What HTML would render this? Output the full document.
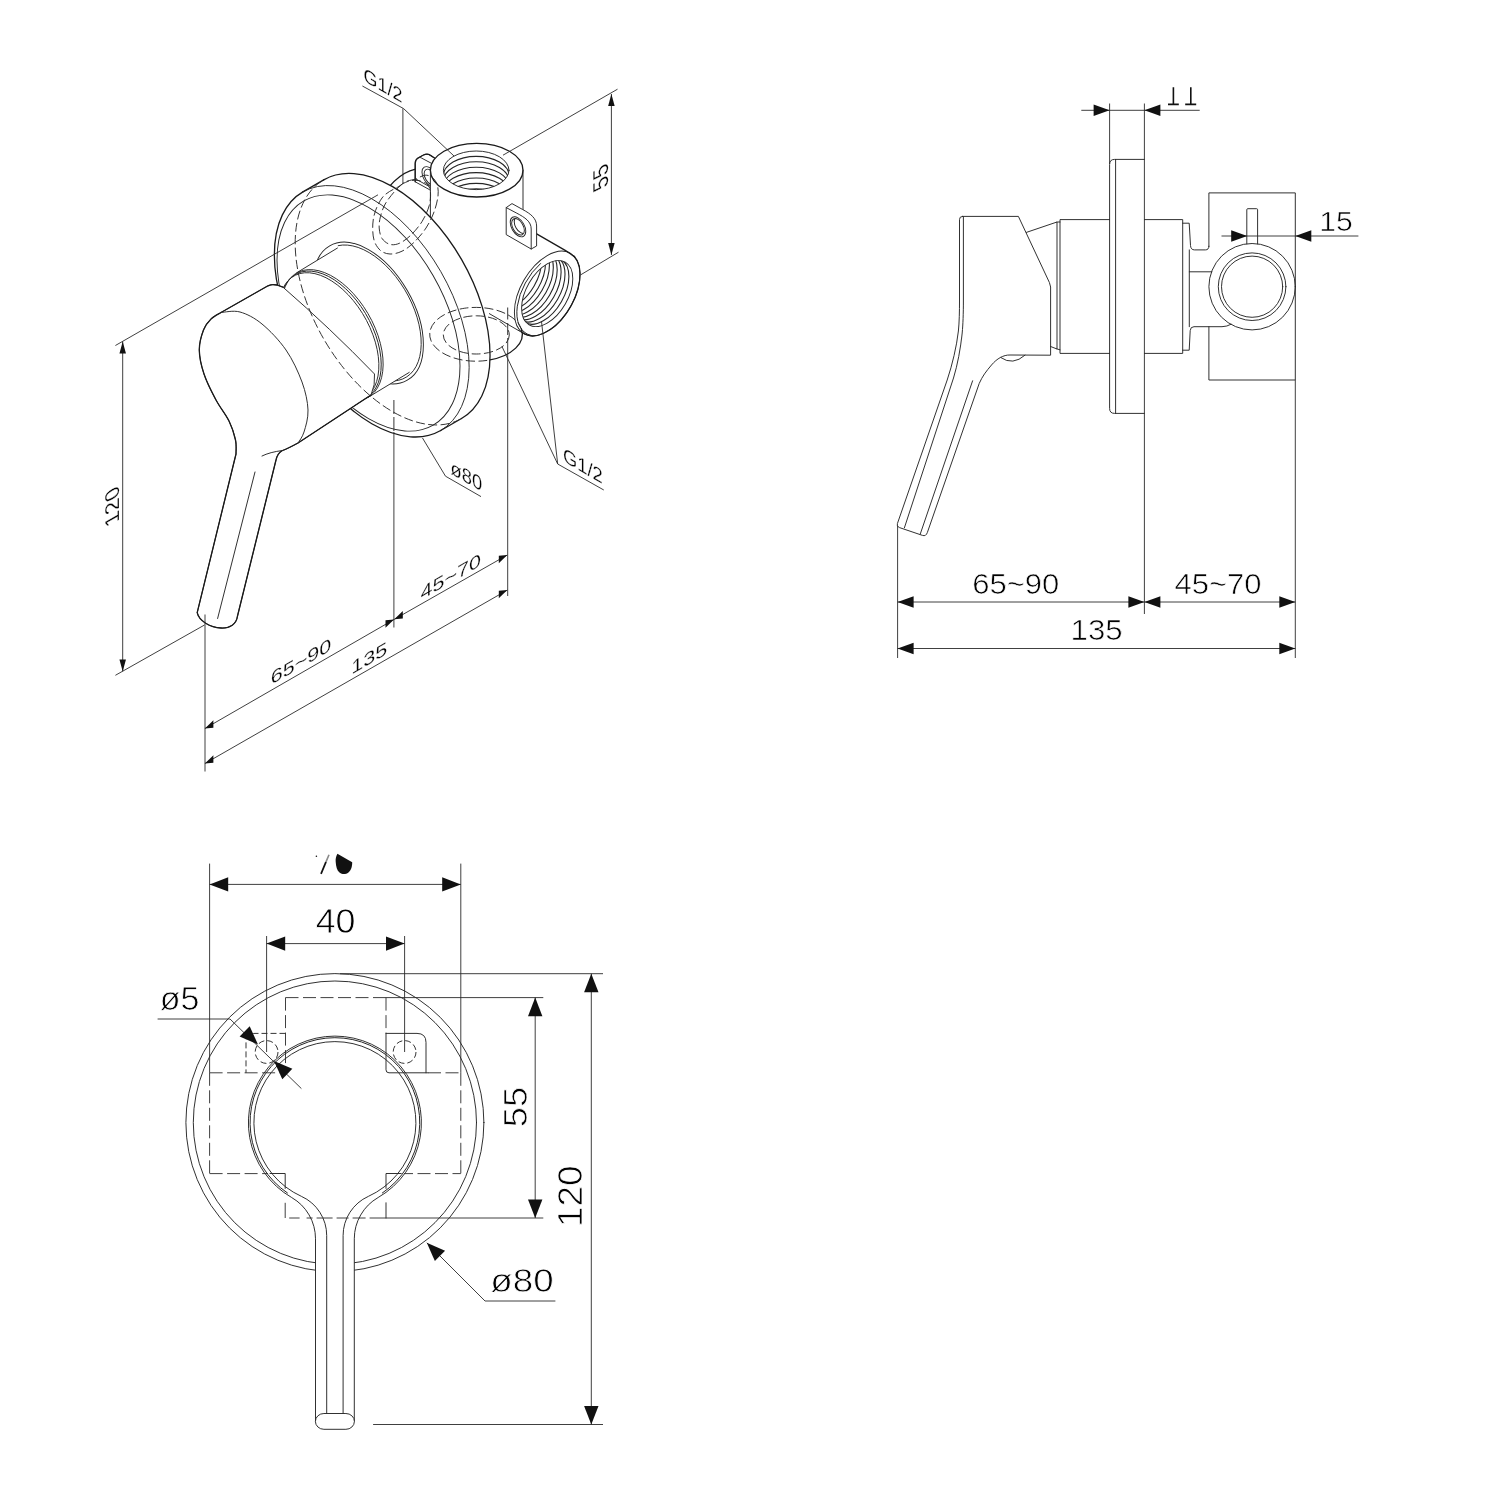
<!DOCTYPE html>
<html><head><meta charset="utf-8"><title>drawing</title>
<style>
html,body{margin:0;padding:0;background:#fff;}
svg{display:block;}
.o{fill:none;stroke:#262626;stroke-width:0.95;stroke-linecap:round;stroke-linejoin:round}
.t{fill:none;stroke:#1a1a1a;stroke-width:1.3;stroke-linecap:round;stroke-linejoin:round}
.w{fill:#fff;stroke:#262626;stroke-width:0.95;stroke-linejoin:round}
.wn{fill:#fff;stroke:none}
.d{fill:none;stroke:#2a2a2a;stroke-width:0.9}
.h{fill:none;stroke:#2a2a2a;stroke-width:0.95;stroke-dasharray:9 3.4}
.h2{fill:none;stroke:#2a2a2a;stroke-width:0.9;stroke-dasharray:13 4.5}
.a{fill:#111;stroke:none}
text{font-family:"Liberation Sans",sans-serif;fill:#000}

</style></head><body>
<svg width="1500" height="1500" viewBox="0 0 1500 1500">
<rect width="1500" height="1500" fill="#fff"/>
<g opacity="0.999">
<g id="iso">
<defs><clipPath id="cTop"><ellipse cx="476.2" cy="170.3" rx="32.8" ry="19.3"/></clipPath>
<clipPath id="cRight"><ellipse cx="547.2" cy="293.5" rx="36.2" ry="20.9" transform="rotate(-60 547.2 293.5)"/></clipPath>
<clipPath id="cTabR"><ellipse cx="518" cy="226.8" rx="9" ry="5.2" transform="rotate(60 518 226.8)"/></clipPath></defs>
<path d="M380.80,199.22 A46.40,26.79 -60 0 1 421.20,168.92" class="t" />
<path d="M415.2,181.8 L415.2,163.5 C415.3,160.5 416,159.2 418,158 L423.5,155 C426,153.8 428.5,154 430.5,155.4 L436,159 L436,194 L429,189.4 Z" class="w" />
<path d="M415.2,181.8 L415.2,163.5 C415.3,160.5 416,159.2 418,158 L423.5,155 C426,153.8 428.5,154 430.5,155.4 L434.5,158" class="t" />
<path d="M418.2,158 C419.5,157.3 420.5,157.3 421.8,158.2 L431.6,163.4" class="o" />
<path d="M415.2,178.6 L429,186.4" class="o" />
<ellipse cx="429.60" cy="176.50" rx="10.80" ry="6.24" transform="rotate(60 429.60 176.50)" class="o" />
<ellipse cx="430.20" cy="177.00" rx="8.60" ry="4.97" transform="rotate(60 430.20 177.00)" class="o" />
<path d="M430.4,170.2 A46.3,26.8 0 0 1 523,170.2 L523,345 L430.4,345 Z" class="wn" />
<ellipse cx="476.7" cy="170.2" rx="46.3" ry="26.8" class="t" style="fill:#fff"/>
<line x1="430.40" y1="170.20" x2="430.40" y2="240.00" class="o"/>
<line x1="523.00" y1="170.20" x2="523.00" y2="216.00" class="o"/>
<ellipse cx="476.2" cy="170.3" rx="32.8" ry="19.3" class="o"/>
<g clip-path="url(#cTop)">
<ellipse cx="476.2" cy="175.70" rx="32.8" ry="19.3" class="o" style="stroke-width:1.1"/>
<ellipse cx="476.2" cy="181.10" rx="32.8" ry="19.3" class="o" style="stroke-width:1.1"/>
<ellipse cx="476.2" cy="186.50" rx="32.8" ry="19.3" class="o" style="stroke-width:1.1"/>
<ellipse cx="476.2" cy="191.90" rx="32.8" ry="19.3" class="o" style="stroke-width:1.1"/>
<ellipse cx="476.2" cy="197.30" rx="32.8" ry="19.3" class="o" style="stroke-width:1.1"/>
<ellipse cx="476.2" cy="202.70" rx="32.8" ry="19.3" class="o" style="stroke-width:1.1"/>
<ellipse cx="476.2" cy="208.10" rx="32.8" ry="19.3" class="o" style="stroke-width:1.1"/>
</g>
<path d="M570.40,253.32 L530.56,230.32 L484.16,310.68 L524.00,333.68 Z" class="wn" />
<ellipse cx="547.20" cy="293.50" rx="46.40" ry="26.79" transform="rotate(-60 547.20 293.50)" class="o" style="fill:#fff"/>
<path d="M535.76,233.32 L565.20,250.32 Q570.40,253.32 574.72,256.98" class="t" />
<path d="M574.08,256.25 A46.40,26.79 -60 0 1 522.07,332.36" class="t" />
<path d="M524.00,333.68 L489.36,313.68" class="o" />
<path d="M530.47,335.22 A45.20,26.10 -60 0 1 540.53,263.53" class="o" style="stroke-width:1"/>
<ellipse cx="547.20" cy="293.50" rx="36.20" ry="20.90" transform="rotate(-60 547.20 293.50)" class="o" />
<g clip-path="url(#cRight)">
<ellipse cx="543.30" cy="291.25" rx="36.20" ry="20.90" transform="rotate(-60 543.30 291.25)" class="o" style="stroke-width:1.1"/>
<ellipse cx="539.41" cy="289.00" rx="36.20" ry="20.90" transform="rotate(-60 539.41 289.00)" class="o" style="stroke-width:1.1"/>
<ellipse cx="535.51" cy="286.75" rx="36.20" ry="20.90" transform="rotate(-60 535.51 286.75)" class="o" style="stroke-width:1.1"/>
<ellipse cx="531.61" cy="284.50" rx="36.20" ry="20.90" transform="rotate(-60 531.61 284.50)" class="o" style="stroke-width:1.1"/>
<ellipse cx="527.72" cy="282.25" rx="36.20" ry="20.90" transform="rotate(-60 527.72 282.25)" class="o" style="stroke-width:1.1"/>
<ellipse cx="523.82" cy="280.00" rx="36.20" ry="20.90" transform="rotate(-60 523.82 280.00)" class="o" style="stroke-width:1.1"/>
<ellipse cx="519.92" cy="277.75" rx="36.20" ry="20.90" transform="rotate(-60 519.92 277.75)" class="o" style="stroke-width:1.1"/>
<ellipse cx="516.02" cy="275.50" rx="36.20" ry="20.90" transform="rotate(-60 516.02 275.50)" class="o" style="stroke-width:1.1"/>
</g>
<path d="M521.29,328.71 A46.30,26.90 0 0 1 488.76,360.16" class="t" />
<path d="M506.2,207.6 L512,203.6 L522.8,209.6 C531,214 536.6,218.5 536.6,226 L536.6,246 L531.2,249 L506.2,234.6 Z" class="w" />
<path d="M506.2,207.6 L516.8,213.2 C525,217.5 531.2,221.5 531.2,229 L531.2,249" class="o" />
<ellipse cx="518.00" cy="226.80" rx="11.00" ry="6.35" transform="rotate(60 518.00 226.80)" class="o" />
<ellipse cx="518.00" cy="226.80" rx="9.00" ry="5.20" transform="rotate(60 518.00 226.80)" class="o" />
<g clip-path="url(#cTabR)">
<ellipse cx="520.60" cy="225.30" rx="9.00" ry="5.20" transform="rotate(60 520.60 225.30)" class="o" style="stroke-width:1"/>
</g>
<path d="M302.90,191.86 A137.80,79.56 60 0 0 440.70,430.54 L461.50,418.54 A137.80,79.56 60 0 0 323.70,179.86 Z" class="wn" />
<path d="M461.50,418.54 A137.80,79.56 60 0 0 323.70,179.86" class="t" />
<path d="M302.90,191.86 A137.80,79.56 60 0 0 440.70,430.54" class="t" />
<line x1="440.70" y1="430.54" x2="461.50" y2="418.54" class="t"/>
<line x1="302.90" y1="191.86" x2="323.70" y2="179.86" class="t"/>
<path d="M302.90,191.86 A137.80,79.56 60 0 1 440.70,430.54" class="o" />
<ellipse cx="368.50" cy="313.00" rx="129.40" ry="74.71" transform="rotate(60 368.50 313.00)" class="o" />
<ellipse cx="368.50" cy="313.00" rx="77.60" ry="44.80" transform="rotate(60 368.50 313.00)" class="o" />
<path d="M338.24,245.64 A74.60,43.07 60 1 1 389.11,380.97" class="o" />
<path d="M415.60,179.20 C414.00,179.60 408.93,180.30 406.00,181.60 C403.07,182.90 400.75,185.35 398.00,187.00 C395.25,188.65 392.17,189.67 389.50,191.50 C386.83,193.33 384.32,194.85 382.00,198.00 C379.68,201.15 377.13,206.07 375.60,210.40 C374.07,214.73 373.07,219.07 372.80,224.00 C372.53,228.93 372.73,235.60 374.00,240.00 C375.27,244.40 377.73,248.07 380.40,250.40 C383.07,252.73 386.40,253.87 390.00,254.00 C393.60,254.13 398.00,253.13 402.00,251.20 C406.00,249.27 410.00,246.27 414.00,242.40 C418.00,238.53 422.67,233.07 426.00,228.00 C429.33,222.93 432.00,217.33 434.00,212.00 C436.00,206.67 437.47,200.53 438.00,196.00 C438.53,191.47 438.13,187.87 437.20,184.80 C436.27,181.73 434.43,179.20 432.40,177.60 C430.37,176.00 427.80,174.93 425.00,175.20 C422.20,175.47 417.17,178.53 415.60,179.20" class="h" />
<path d="M402.80,183.60 C401.47,184.87 397.73,187.80 394.80,191.20 C391.87,194.60 387.60,199.73 385.20,204.00 C382.80,208.27 381.40,212.80 380.40,216.80 C379.40,220.80 378.93,224.40 379.20,228.00 C379.47,231.60 380.20,235.67 382.00,238.40 C383.80,241.13 387.07,243.60 390.00,244.40 C392.93,245.20 396.13,244.73 399.60,243.20 C403.07,241.67 407.07,238.80 410.80,235.20 C414.53,231.60 418.93,226.53 422.00,221.60 C425.07,216.67 427.80,210.62 429.20,205.60 C430.60,200.58 430.77,195.10 430.40,191.50 C430.03,187.90 429.07,185.83 427.00,184.00 C424.93,182.17 420.83,181.03 418.00,180.50 C415.17,179.97 412.53,180.28 410.00,180.80 C407.47,181.32 404.00,183.13 402.80,183.60" class="h" />
<path d="M487.20,360.40 A46.30,26.90 0 1 1 520.92,327.79" class="h" />
<ellipse cx="476.3" cy="334.9" rx="33" ry="19.1" class="h"/>
<path d="M296.60,272.82 A71.80,41.45 60 0 0 368.40,397.18 L404.40,375.18 L404.40,375.18 A71.80,41.45 60 0 0 332.60,250.82 Z" class="wn" />
<line x1="296.60" y1="272.82" x2="337.45" y2="248.02" class="o"/>
<line x1="368.40" y1="397.18" x2="409.25" y2="372.38" class="o"/>
<path d="M283.46,291.51 A71.80,41.45 60 1 1 367.13,397.87" class="o" />
<path d="M282.37,292.78 A71.20,41.11 60 1 1 366.60,397.56" class="o" style="stroke-width:1"/>
<path d="M280.88,294.24 A70.60,40.76 60 1 1 365.61,397.39" class="o" />
<path d="M221,312.5 L268,285.8 Q272,283.8 277,285 L283,287.2 Q330,328 374.5,374 Q375.5,385 371,395 L298,443 Q287,449 282.5,450.5 Q277.5,453 276,460 L237.5,616 C236.5,624 230,628.5 221,628 C210,627.5 199,621 197.2,612.7 L236,454 L236.00,454.00 C235.92,451.67 236.67,445.50 235.50,440.00 C234.33,434.50 232.25,427.67 229.00,421.00 C225.75,414.33 220.17,407.83 216.00,400.00 C211.83,392.17 206.78,382.33 204.00,374.00 C201.22,365.67 199.38,357.33 199.30,350.00 C199.22,342.67 201.55,335.17 203.50,330.00 C205.45,324.83 208.08,321.92 211.00,319.00 C213.92,316.08 219.33,313.58 221.00,312.50 Z" class="w" />
<path d="M221,312.5 L268,285.8 Q272,283.8 277,285 L283,287.2" class="t" />
<path d="M371,395 L298,443 Q287,449 282.5,450.5 Q277.5,453 276,460 L237.5,616 C236.5,624 230,628.5 221,628 C210,627.5 199,621 197.2,612.7 L236,454 L236.00,454.00 C235.92,451.67 236.67,445.50 235.50,440.00 C234.33,434.50 232.25,427.67 229.00,421.00 C225.75,414.33 220.17,407.83 216.00,400.00 C211.83,392.17 206.78,382.33 204.00,374.00 C201.22,365.67 199.38,357.33 199.30,350.00 C199.22,342.67 201.55,335.17 203.50,330.00 C205.45,324.83 208.08,321.92 211.00,319.00 C213.92,316.08 219.33,313.58 221.00,312.50" class="t" />
<path d="M221.00,312.50 C224.17,312.42 233.17,310.08 240.00,312.00 C246.83,313.92 254.33,317.67 262.00,324.00 C269.67,330.33 279.33,340.33 286.00,350.00 C292.67,359.67 298.33,372.00 302.00,382.00 C305.67,392.00 307.67,401.67 308.00,410.00 C308.33,418.33 305.67,426.50 304.00,432.00 C302.33,437.50 299.00,441.17 298.00,443.00" class="o" />
<path d="M282.5,450.5 Q270,452 262,456" class="o" />
<line x1="255.00" y1="472.00" x2="217.60" y2="618.50" class="o"/>
<path d="M321.34,181.32 A137.80,79.56 60 0 0 459.05,419.85" class="h" />
<line x1="122.70" y1="341.50" x2="122.70" y2="671.40" class="d"/>
<polygon points="122.70,341.50 125.95,353.50 119.45,353.50" class="a"/>
<polygon points="122.70,671.40 119.45,659.40 125.95,659.40" class="a"/>
<line x1="115.40" y1="345.50" x2="378.00" y2="194.80" class="d"/>
<line x1="115.40" y1="675.30" x2="204.50" y2="625.00" class="d"/>
<text transform="matrix(0.0000,-1.0200,0.9090,-0.5250,118.90,502.80)" font-size="22" text-anchor="middle" stroke="#fff" stroke-width="0.26">120</text>
<line x1="205.00" y1="614.50" x2="205.00" y2="771.50" class="d"/>
<line x1="393.90" y1="432.00" x2="393.90" y2="627.50" class="d"/>
<line x1="393.9" y1="400" x2="393.9" y2="432" class="h" style="stroke-dasharray:14 3"/>
<line x1="507.70" y1="338.00" x2="507.70" y2="596.00" class="d"/>
<line x1="507.7" y1="307.5" x2="507.7" y2="338" class="h" style="stroke-dasharray:12 3.5"/>
<line x1="204.90" y1="728.50" x2="394.00" y2="619.50" class="d"/>
<polygon points="204.90,728.50 213.40,727.80 213.40,720.30" class="a"/>
<polygon points="394.00,619.50 385.50,620.20 385.50,627.70" class="a"/>
<line x1="394.00" y1="619.50" x2="507.30" y2="555.00" class="d"/>
<polygon points="394.30,619.30 402.80,618.60 402.80,611.10" class="a"/>
<polygon points="507.30,555.00 498.80,555.70 498.80,563.20" class="a"/>
<line x1="204.90" y1="763.50" x2="507.30" y2="590.10" class="d"/>
<polygon points="204.90,763.50 213.40,762.80 213.40,755.30" class="a"/>
<polygon points="507.30,590.10 498.80,590.80 498.80,598.30" class="a"/>
<text transform="matrix(1.1870,-0.6850,0.0000,1.0000,301.00,667.60)" font-size="18.2" text-anchor="middle" stroke="#fff" stroke-width="0.22">65~90</text>
<text transform="matrix(1.1870,-0.6850,0.0000,1.0000,369.20,664.30)" font-size="18.2" text-anchor="middle" stroke="#fff" stroke-width="0.22">135</text>
<text transform="matrix(1.1870,-0.6850,0.0000,1.0000,450.80,582.80)" font-size="18.2" text-anchor="middle" stroke="#fff" stroke-width="0.22">45~70</text>
<line x1="611.40" y1="94.00" x2="611.40" y2="255.00" class="d"/>
<polygon points="611.40,94.00 614.65,106.00 608.15,106.00" class="a"/>
<polygon points="611.40,255.00 608.15,243.00 614.65,243.00" class="a"/>
<line x1="503.00" y1="155.20" x2="617.50" y2="89.20" class="d"/>
<line x1="580.40" y1="275.00" x2="618.50" y2="252.20" class="d"/>
<text transform="matrix(0.0000,-0.9900,0.9800,-0.5660,607.70,173.60)" font-size="22" text-anchor="middle" stroke="#fff" stroke-width="0.26">55</text>
<line x1="362.40" y1="86.00" x2="403.60" y2="108.60" class="d"/>
<line x1="403.60" y1="108.60" x2="454.00" y2="156.00" class="d"/>
<line x1="402.90" y1="108.40" x2="402.90" y2="183.20" class="d"/>
<text transform="matrix(0.9180,0.5300,0.0000,1.0000,383.00,92.00)" font-size="19.5" text-anchor="middle" stroke="#fff" stroke-width="0.23">G1/2</text>
<line x1="557.70" y1="464.00" x2="603.80" y2="490.00" class="d"/>
<line x1="557.70" y1="464.00" x2="541.50" y2="321.50" class="d"/>
<line x1="557.70" y1="464.00" x2="502.00" y2="346.60" class="d"/>
<text transform="matrix(0.9180,0.5300,0.0000,1.0000,582.90,472.60)" font-size="20" text-anchor="middle" stroke="#fff" stroke-width="0.24">G1/2</text>
<line x1="422.50" y1="438.00" x2="445.50" y2="476.20" class="d"/>
<line x1="445.50" y1="476.20" x2="481.00" y2="496.60" class="d"/>
<text transform="matrix(0.9180,0.5300,0.0000,1.0000,466.40,482.60)" font-size="20" text-anchor="middle" stroke="#fff" stroke-width="0.24">ø80</text>
</g>
<g id="side">
<path d="M1208.9,246.7 L1208.9,192.9 L1295.3,192.9 L1295.3,380 L1208.9,380 L1208.9,326.7" class="o" />
<path d="M1144.4,159.4 L1114.6,159.4 Q1109.6,159.4 1109.6,164.4 L1109.6,408.4 Q1109.6,413.4 1114.6,413.4 L1144.4,413.4" class="o" />
<line x1="1115.60" y1="159.40" x2="1115.60" y2="413.40" class="o"/>
<path d="M1109.6,219.6 L1060,219.6 L1060,353.4 L1109.6,353.4" class="o" />
<path d="M1144.4,219.6 L1182.7,219.6 L1182.7,353.4 L1144.4,353.4" class="o" />
<path d="M1182.7,223.2 L1189.2,223.2 L1190.5,245.5 Q1190.8,249.9 1194.5,249.9 L1205.4,249.9 Q1208.9,249.9 1208.9,246.2" class="o" />
<path d="M1182.7,350.2 L1189.2,350.2 L1190.2,330.6 Q1190.4,326.7 1194,326.7 L1222,326.7 Q1227,326.6 1231,324.3" class="o" />
<line x1="1189.30" y1="249.90" x2="1189.30" y2="326.70" class="o"/>
<line x1="1189.30" y1="271.80" x2="1211.80" y2="271.80" class="o"/>
<circle cx="1252.1" cy="286.7" r="43.2" class="o"/>
<circle cx="1252.1" cy="286.7" r="33.8" class="o"/>
<circle cx="1252.1" cy="286.7" r="30.6" class="o"/>
<path d="M1246.8,243.9 L1246.8,209.7 Q1246.8,208.7 1247.8,208.7 L1256.6,208.7 Q1257.6,208.7 1257.6,209.7 L1257.6,243.9" class="o" />
<path d="M1026.4,232.4 L1057,222 L1057,349 L1050.6,346.5" class="o" />
<line x1="1057.00" y1="222.00" x2="1060.00" y2="222.00" class="o"/>
<line x1="1057.00" y1="349.00" x2="1060.00" y2="349.80" class="o"/>
<path d="M962.4,216.4 L1018.4,216.4 L1049.4,282.5 L1050.6,287 L1050.6,355.2 L1010,355 C1003.5,354.8 997,358.5 991.5,365 C986,371.5 982.5,376 979.2,383.5 L927.4,532.4 Q926,536.6 922.5,535.4 L899.5,527.6 Q896.3,526.5 897.4,523.6 L947.2,380 C952.5,364 956.5,347 958.4,331 C959.3,322 959.5,312 959.5,300 L959.5,219.4 Q959.5,216.4 962.4,216.4 Z" class="o" />
<path d="M963.4,216.8 L963.4,300 C963.4,314 963,324 962.2,333 C960.5,349 957.5,365 953.5,378 L904.4,527.8" class="o" />
<line x1="972.60" y1="380.80" x2="920.20" y2="534.20" class="o"/>
<path d="M1000.8,357.6 Q1012.8,366 1025,355.2" class="o" />
<line x1="1081.30" y1="110.30" x2="1199.70" y2="110.30" class="d"/>
<polygon points="1109.60,110.30 1093.60,116.05 1093.60,104.55" class="a"/>
<polygon points="1144.40,110.30 1160.40,104.55 1160.40,116.05" class="a"/>
<line x1="1109.60" y1="103.50" x2="1109.60" y2="164.00" class="d"/>
<line x1="1144.40" y1="103.50" x2="1144.40" y2="614.00" class="d"/>
<path d="M1173.4,87.2 L1173.4,104.2 M1168,104.4 L1178.8,104.4 M1190.8,87.2 L1190.8,104.2 M1185.2,104.4 L1196.2,104.4" class="d" style="stroke-width:1.6;stroke:#111"/>
<line x1="1221.50" y1="236.00" x2="1358.40" y2="236.00" class="d"/>
<polygon points="1247.20,236.00 1231.20,241.75 1231.20,230.25" class="a"/>
<polygon points="1295.30,236.00 1311.30,230.25 1311.30,241.75" class="a"/>
<text transform="translate(1336.00,230.70) rotate(0) scale(1.06,1)" font-size="28.5" text-anchor="middle" stroke="#fff" stroke-width="0.63" >15</text>
<line x1="897.60" y1="526.00" x2="897.60" y2="658.00" class="d"/>
<line x1="1295.30" y1="380.00" x2="1295.30" y2="658.00" class="d"/>
<line x1="897.60" y1="602.00" x2="1295.30" y2="602.00" class="d"/>
<polygon points="897.60,602.00 913.60,596.25 913.60,607.75" class="a"/>
<polygon points="1144.40,602.00 1128.40,607.75 1128.40,596.25" class="a"/>
<polygon points="1144.40,602.00 1160.40,596.25 1160.40,607.75" class="a"/>
<polygon points="1295.30,602.00 1279.30,607.75 1279.30,596.25" class="a"/>
<line x1="897.60" y1="648.50" x2="1295.30" y2="648.50" class="d"/>
<polygon points="897.60,648.50 913.60,642.75 913.60,654.25" class="a"/>
<polygon points="1295.30,648.50 1279.30,654.25 1279.30,642.75" class="a"/>
<text transform="translate(1015.80,593.60) rotate(0) scale(1.035,1)" font-size="30" text-anchor="middle" stroke="#fff" stroke-width="0.66" >65~90</text>
<text transform="translate(1218.00,593.60) rotate(0) scale(1.035,1)" font-size="30" text-anchor="middle" stroke="#fff" stroke-width="0.66" >45~70</text>
<text transform="translate(1096.60,639.90) rotate(0) scale(1.04,1)" font-size="30" text-anchor="middle" stroke="#fff" stroke-width="0.66" >135</text>
</g>
<g id="front">
<circle cx="334.9" cy="1122.6" r="149" class="o"/>
<circle cx="334.9" cy="1122.6" r="141.6" class="o"/>
<path d="M315.50,1421.40 L315.50,1238.80 A47.66,47.66 0 0 0 291.66,1197.52 A86.5,86.5 0 1 1 378.14,1197.52 A47.66,47.66 0 0 0 354.30,1238.80 L354.30,1421.40 Z" class="wn" />
<path d="M315.50,1421.40 L315.50,1238.80 A47.66,47.66 0 0 0 291.66,1197.52 A86.5,86.5 0 1 1 378.14,1197.52 A47.66,47.66 0 0 0 354.30,1238.80 L354.30,1421.40" class="o" />
<path d="M326.70,1413.60 L326.70,1235.60 A43.10,43.10 0 0 0 301.42,1196.36 A81,81 0 1 1 368.38,1196.36 A43.10,43.10 0 0 0 343.10,1235.60 L343.10,1413.60" class="o" />
<path d="M287.44,1192.99 A84.9,84.9 0 1 1 382.36,1192.99" class="o" style="stroke-width:1"/>
<rect x="315.4" y="1413.5" width="39" height="15.8" rx="8.5" ry="7.9" class="w"/>
<path d="M209.6,1072.8 L209.6,1173.6" class="h2" />
<path d="M460.8,1072.8 L460.8,1173.6" class="h2" />
<path d="M209.6,1072.8 L283,1072.8" class="h2" />
<path d="M428,1072.8 L460.8,1072.8" class="h2" />
<path d="M209.6,1173.6 L268,1173.6" class="h2" />
<path d="M404,1173.6 L460.8,1173.6" class="h2" style="stroke-dashoffset:4"/>
<path d="M285.5,997.6 L386,997.6" class="h2" />
<path d="M285.5,997.6 L285.5,1072.8" class="h2" />
<path d="M386,997.6 L386,1033" class="h2" />
<path d="M285.2,1202.8 L285.2,1218 L372,1218" class="h2" style="stroke-dasharray:15.2 4 10.4 7 6 4 16 4 12 4 13 4"/>
<path d="M386,1202.8 L386,1218" class="o" />
<path d="M270,1173.5 L285.2,1173.5 L285.2,1188.4" class="o" />
<path d="M401.2,1173.5 L386,1173.5 L386,1188.4" class="o" />
<path d="M285.5,1033.4 L255,1033.4 Q246,1033.4 246,1042.4 L246,1072.8" class="h" style="stroke-dasharray:6 3"/>
<circle cx="266.6" cy="1052" r="11.4" class="h" style="stroke-dasharray:6 3"/>
<circle cx="404.6" cy="1052" r="11.4" class="h" style="stroke-dasharray:6 3"/>
<path d="M386,1033.4 L417,1033.4 Q426,1033.4 426,1042.4 L426,1072.8 M428,1072.8 L389,1072.8 Q386,1072.8 386,1069.8 L386,1033.4" class="o" />
<line x1="209.60" y1="863.60" x2="209.60" y2="1072.80" class="d"/>
<line x1="460.80" y1="863.60" x2="460.80" y2="1072.80" class="d"/>
<line x1="209.60" y1="884.40" x2="460.80" y2="884.40" class="d"/>
<polygon points="209.60,884.40 228.20,877.20 228.20,891.60" class="a"/>
<polygon points="460.80,884.40 442.20,891.60 442.20,877.20" class="a"/>
<path d="M321,873.8 L326,861.9" class="d" style="stroke-width:1.7;stroke:#111"/>
<path d="M326,861.9 L329,854.8" class="d" style="stroke-width:1.6;stroke:#8a8a8a"/>
<path d="M337.4,853.8 C336,856.5 335.4,859 335.7,862 C336,866.5 337,870.5 339.5,872.6 C341.5,874 343.2,874.3 345,874 C348.5,873.5 351,870.5 351.8,866.5 C352.1,865 352.3,863.5 352.2,862.2 Z" class="a" />
<circle cx="316.4" cy="856.2" r="0.8" class="a"/>
<line x1="266.60" y1="936.00" x2="266.60" y2="1052.00" class="d"/>
<line x1="404.60" y1="936.00" x2="404.60" y2="1052.00" class="d"/>
<line x1="266.60" y1="943.60" x2="404.60" y2="943.60" class="d"/>
<polygon points="266.60,943.60 285.20,936.40 285.20,950.80" class="a"/>
<polygon points="404.60,943.60 386.00,950.80 386.00,936.40" class="a"/>
<text transform="translate(335.60,933.10) rotate(0) scale(1.04,1)" font-size="34.5" text-anchor="middle" stroke="#fff" stroke-width="0.76" >40</text>
<line x1="157.60" y1="1019.00" x2="230.00" y2="1019.00" class="d"/>
<line x1="230.00" y1="1019.00" x2="301.40" y2="1088.60" class="d"/>
<polygon points="258.00,1044.40 239.65,1036.59 249.69,1026.27" class="a"/>
<polygon points="274.00,1061.00 292.35,1068.81 282.31,1079.13" class="a"/>
<text transform="translate(179.50,1010.00) rotate(0) scale(1.0,1)" font-size="34" text-anchor="middle" stroke="#fff" stroke-width="0.75" >ø5</text>
<line x1="386.00" y1="997.60" x2="543.30" y2="997.60" class="d"/>
<line x1="372.00" y1="1218.00" x2="543.30" y2="1218.00" class="d"/>
<line x1="535.20" y1="997.60" x2="535.20" y2="1218.00" class="d"/>
<polygon points="535.20,997.60 542.40,1016.20 528.00,1016.20" class="a"/>
<polygon points="535.20,1218.00 528.00,1199.40 542.40,1199.40" class="a"/>
<text transform="translate(526.60,1106.90) rotate(-90) scale(1.07,1)" font-size="34" text-anchor="middle" stroke="#fff" stroke-width="0.75" >55</text>
<line x1="340.00" y1="973.70" x2="603.00" y2="973.70" class="d"/>
<line x1="373.10" y1="1424.50" x2="603.00" y2="1424.50" class="d"/>
<line x1="591.30" y1="973.70" x2="591.30" y2="1424.50" class="d"/>
<polygon points="591.30,973.70 598.50,992.30 584.10,992.30" class="a"/>
<polygon points="591.30,1424.50 584.10,1405.90 598.50,1405.90" class="a"/>
<text transform="translate(581.60,1196.20) rotate(-90) scale(1.07,1)" font-size="34.5" text-anchor="middle" stroke="#fff" stroke-width="0.76" >120</text>
<line x1="485.00" y1="1301.00" x2="555.40" y2="1301.00" class="d"/>
<line x1="485.00" y1="1301.00" x2="426.80" y2="1242.80" class="d"/>
<polygon points="426.80,1242.80 445.04,1250.86 434.86,1261.04" class="a"/>
<text transform="translate(522.00,1292.30) rotate(0) scale(1.08,1)" font-size="34" text-anchor="middle" stroke="#fff" stroke-width="0.75" >ø80</text>
</g>
</g></svg></body></html>
